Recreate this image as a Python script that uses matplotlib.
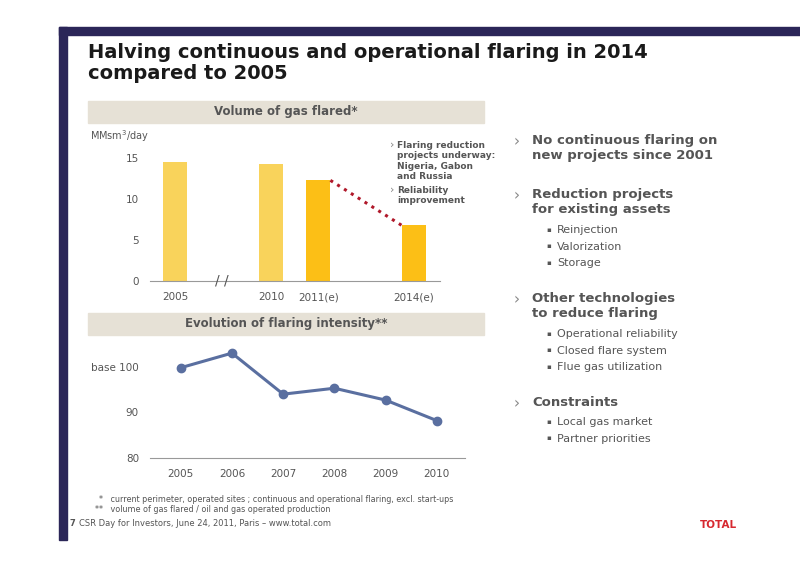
import numpy as np
import matplotlib.pyplot as plt
from matplotlib.patches import Rectangle

# ==================== Data ====================
bar_labels = ["2005", "2010", "2011(e)", "2014(e)"]
bar_pos = [0.86, 4.17, 5.8, 9.1]
bar_vals = [14.6, 14.3, 12.3, 6.8]
bar_colors = ['#f9d35b', '#f9d35b', '#fcbf16', '#fcbf16']

years = [2005, 2006, 2007, 2008, 2009, 2010]
intensity = [99.8, 103.0, 94.0, 95.3, 92.7, 88.2]

W, H = 800, 566
fig = plt.figure(figsize=(8, 5.66), dpi=100)

def box(l, t, r, b):
    return [l / W, 1 - b / H, (r - l) / W, (b - t) / H]

# ==================== Slide frame ====================
fig.patches.append(Rectangle((59 / W, 1 - 35 / H), 741 / W, 8 / H, transform=fig.transFigure, color='#2b2658'))
fig.patches.append(Rectangle((59 / W, 1 - 540 / H), 8 / W, 513 / H, transform=fig.transFigure, color='#2b2658'))
fig.text(88 / W, 1 - 63 / H, "Halving continuous and operational flaring in 2014\ncompared to 2005",
         fontsize=14, fontweight='bold', color='#1a1a1a', va='center', linespacing=1.1)

for (t, b, txt) in [(101, 123, "Volume of gas flared*"), (313, 335, "Evolution of flaring intensity**")]:
    fig.patches.append(Rectangle((88 / W, 1 - b / H), 396 / W, (b - t) / H, transform=fig.transFigure, color='#e6e1d6'))
    fig.text(286 / W, 1 - (t + b) / 2 / H, txt, ha='center', va='center', fontsize=8.5, fontweight='bold', color='#555555')

# ==================== Bar chart ====================
ax1 = fig.add_axes(box(150, 146, 440, 281))
ax1.bar(bar_pos, bar_vals, width=0.83, color=bar_colors)
ax1.plot([bar_pos[2] + 0.42, bar_pos[3] - 0.42], [bar_vals[2], bar_vals[3]], ':', color='#b0182a', lw=2.2)
ax1.set_xlim(0, 10)
ax1.set_ylim(0, 16.5)
ax1.set_yticks([0, 5, 10, 15])
ax1.set_xticks(bar_pos)
ax1.set_xticklabels(bar_labels)
for s in ['top', 'right', 'left']:
    ax1.spines[s].set_visible(False)
ax1.spines['bottom'].set_color('#999999')
ax1.tick_params(length=0, labelsize=7.5, colors='#555555', pad=8)
fig.text(90 / W, 1 - 136 / H, "MMsm$^3$/day", ha='left', va='center', fontsize=7, color='#555555')
fig.text(222 / W, 1 - 281 / H, "/ /", fontsize=10, color='#555555', ha='center', va='center')
fig.text(390 / W, 1 - 140 / H, "›", fontsize=8, color='#888888', va='top')
fig.text(397 / W, 1 - 141 / H, "Flaring reduction\nprojects underway:\nNigeria, Gabon\nand Russia",
         fontsize=6.5, fontweight='bold', color='#555555', va='top', linespacing=1.2)
fig.text(390 / W, 1 - 185 / H, "›", fontsize=8, color='#888888', va='top')
fig.text(397 / W, 1 - 186 / H, "Reliability\nimprovement",
         fontsize=6.5, fontweight='bold', color='#555555', va='top', linespacing=1.2)

# ==================== Line chart ====================
ax2 = fig.add_axes(box(150, 344, 465, 458))
ax2.plot(years, intensity, '-o', color='#5a6fa0', lw=2.2, ms=6)
ax2.set_xlim(2004.4, 2010.55)
ax2.set_ylim(80, 105)
ax2.set_yticks([80, 90, 100])
ax2.set_yticklabels(["80", "90", "base 100"])
ax2.set_xticks(years)
for s in ['top', 'right', 'left']:
    ax2.spines[s].set_visible(False)
ax2.spines['bottom'].set_color('#999999')
ax2.tick_params(length=0, labelsize=7.5, colors='#555555', pad=8)

# ==================== Right text ====================
items = [
    (142, "No continuous flaring on\nnew projects since 2001", []),
    (196, "Reduction projects\nfor existing assets", ["Reinjection", "Valorization", "Storage"]),
    (300, "Other technologies\nto reduce flaring", ["Operational reliability", "Closed flare system", "Flue gas utilization"]),
    (404, "Constraints", ["Local gas market", "Partner priorities"]),
]
for y, head, subs in items:
    nl = head.count("\n")
    fig.text(514 / W, 1 - y / H, "›", fontsize=11, color='#888888', va='center')
    fig.text(532 / W, 1 - (y - 8) / H, head, fontsize=9.5, fontweight='bold', color='#555555', va='top', linespacing=1.25)
    for i, s in enumerate(subs):
        yy = y + nl * 16 + 18 + i * 16.5
        fig.text(546 / W, 1 - yy / H, "▪", fontsize=5, color='#555555', va='center')
        fig.text(557 / W, 1 - yy / H, s, fontsize=8, color='#555555', va='center')

# ==================== Footer ====================
fig.text(99 / W, 1 - 500 / H, "*   current perimeter, operated sites ; continuous and operational flaring, excl. start-ups",
         fontsize=5.8, color='#555555', va='center')
fig.text(95 / W, 1 - 510 / H, "**   volume of gas flared / oil and gas operated production", fontsize=5.8, color='#555555', va='center')
fig.text(70 / W, 1 - 524 / H, "7", fontsize=6, fontweight='bold', color='#555555', va='center')
fig.text(79 / W, 1 - 524 / H, "CSR Day for Investors, June 24, 2011, Paris – www.total.com", fontsize=6, color='#555555', va='center')
fig.text(700 / W, 1 - 525 / H, "TOTAL", fontsize=7.5, fontweight='bold', color='#d7282f', va='center')

fig.savefig("out.png", dpi=100)
